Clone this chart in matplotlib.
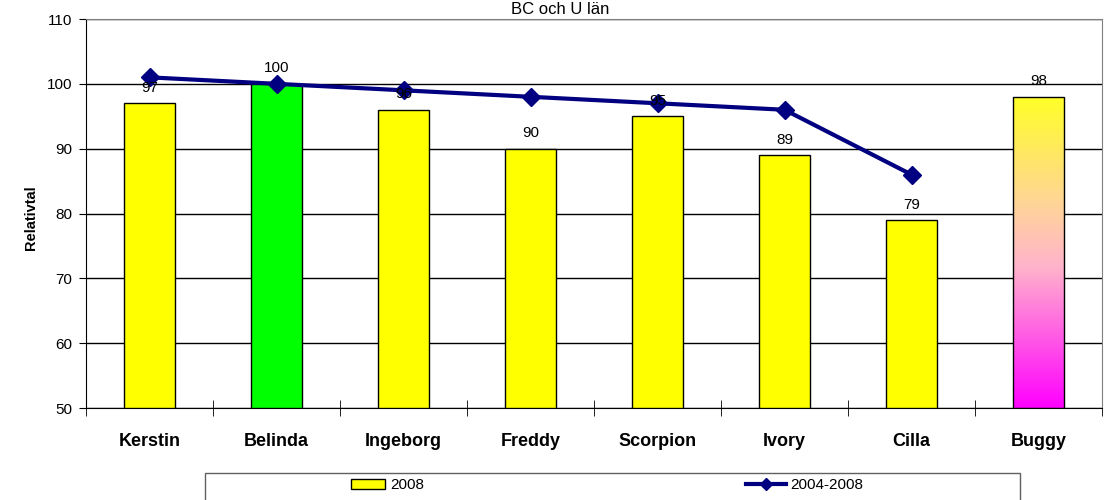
import numpy as np
import matplotlib.pyplot as plt
from matplotlib.colors import LinearSegmentedColormap
from matplotlib.lines import Line2D
from matplotlib.patches import Patch, Rectangle

plt.rcParams['font.family'] = ['Liberation Sans', 'DejaVu Sans']

names = ['Kerstin', 'Belinda', 'Ingeborg', 'Freddy', 'Scorpion', 'Ivory', 'Cilla', 'Buggy']
bars_2008 = [97, 100, 96, 90, 95, 89, 79, 98]
line_names = ['Kerstin', 'Belinda', 'Ingeborg', 'Freddy', 'Scorpion', 'Ivory', 'Cilla']
line_0408 = [101, 100, 99, 98, 97, 96, 86]
bar_colors = ['#FFFF00', '#00FF00', '#FFFF00', '#FFFF00', '#FFFF00', '#FFFF00', '#FFFF00', 'gradient']

fig = plt.figure(figsize=(11.12, 5.0), dpi=100)
ax = fig.add_axes([86 / 1112, 92 / 500, 1016 / 1112, 389 / 500])

x = np.arange(len(names))
bars = []
for i, (v, c) in enumerate(zip(bars_2008, bar_colors)):
    fc = 'none' if c == 'gradient' else c
    b = ax.bar(x[i], v - 50, bottom=50, width=0.4, color=fc, edgecolor='black', linewidth=1, zorder=3)
    bars.append(b[0])
    ax.annotate(str(v), (x[i], v), xytext=(0, 6), textcoords='offset points',
                ha='center', va='bottom', fontsize=11, zorder=6)

# gradient fill for Buggy (magenta at bottom -> yellow at top)
cmap = LinearSegmentedColormap.from_list('grad', [
    (0.0, (1.0, 0.0, 1.0)),
    (0.45, (1.0, 0.70, 0.80)),
    (0.65, (1.0, 0.83, 0.60)),
    (1.0, (1.0, 1.0, 0.15)),
])
gb = bars[-1]
grad = np.linspace(0, 1, 256).reshape(-1, 1)
im = ax.imshow(grad, cmap=cmap, origin='lower', aspect='auto',
               extent=[gb.get_x(), gb.get_x() + gb.get_width(), 50, bars_2008[-1]], zorder=2)
im.set_clip_path(gb)

lx = [names.index(n) for n in line_names]
ax.plot(lx, line_0408, color='#000080', linewidth=3, marker='D', markersize=9, zorder=5)

ax.set_xlim(-0.5, len(names) - 0.5)
ax.set_ylim(50, 110)
ax.set_yticks(range(50, 111, 10))
ax.yaxis.grid(True, color='black', linewidth=1, zorder=0)
ax.set_axisbelow(True)

ax.set_xticks(x)
ax.set_xticklabels(names, fontsize=13, fontweight='bold')
ax.set_xticks(np.arange(-0.5, len(names), 1), minor=True)
ax.tick_params(axis='x', which='major', length=0, pad=18)
ax.tick_params(axis='x', which='minor', length=12, direction='inout', color='black')
ax.tick_params(axis='y', length=5, direction='out', labelsize=11, pad=5)

ax.spines['top'].set_color('#808080')
ax.spines['right'].set_color('#808080')
ax.set_ylabel('Relativtal', fontsize=10.5, fontweight='bold')
ax.yaxis.set_label_coords((38 - 86) / 1016, (408 - 218) / 389)

fig.text(560 / 1112, 1 - 10 / 500, 'BC och U län', ha='center', va='center', fontsize=12)

# legend box
fig.patches.append(Rectangle((205 / 1112, -0.02), 815 / 1112, 27 / 500 + 0.02,
                             transform=fig.transFigure, fill=False, edgecolor='#606060', linewidth=1))
h_bar = Patch(facecolor='#FFFF00', edgecolor='black', label='2008')
h_line = Line2D([0], [0], color='#000080', linewidth=3, marker='D', markersize=6, label='2004-2008')
leg1 = fig.legend(handles=[h_bar], loc='center left', bbox_to_anchor=(351 / 1112, 1 - 485 / 500),
                  frameon=False, fontsize=11, borderpad=0, borderaxespad=0,
                  handlelength=2.2, handleheight=0.65, handletextpad=0.4)
leg2 = fig.legend(handles=[h_line], loc='center left', bbox_to_anchor=(746 / 1112, 1 - 485 / 500),
                  frameon=False, fontsize=11, borderpad=0, borderaxespad=0,
                  handlelength=2.6, handletextpad=0.3)

fig.savefig('out.png', dpi=100)
